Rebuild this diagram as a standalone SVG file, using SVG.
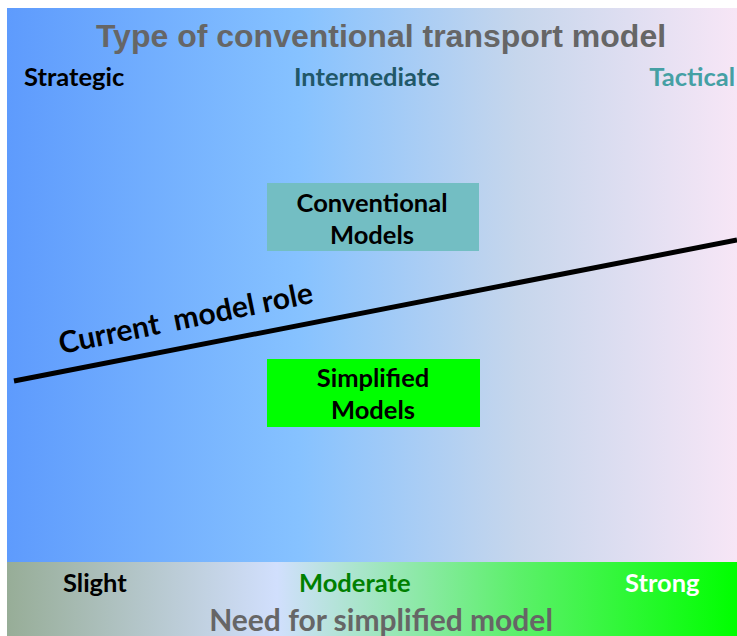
<svg xmlns="http://www.w3.org/2000/svg" width="737" height="636" viewBox="0 0 737 636">
<defs>
<linearGradient id="gTop" x1="0" y1="0" x2="1" y2="0">
<stop offset="0" stop-color="#5E9BFD"/>
<stop offset="0.4" stop-color="#86C2FF"/>
<stop offset="0.7" stop-color="#C6D6EC"/>
<stop offset="1" stop-color="#F7E6F6"/>
</linearGradient>
<linearGradient id="gBot" x1="0" y1="0" x2="1" y2="0">
<stop offset="0" stop-color="#97AD97"/>
<stop offset="0.37" stop-color="#D1DFFD"/>
<stop offset="0.7" stop-color="#5CF06A"/>
<stop offset="1" stop-color="#00FF00"/>
</linearGradient>
<style>
.lbl{font-family:Lato,"Open Sans",sans-serif;font-weight:bold;font-size:25.5px}
.mid{text-anchor:middle}
.title{font-family:"Liberation Sans",Arial,sans-serif;font-weight:bold;font-size:32px;fill:#666666;text-anchor:middle}
</style>
</defs>
<rect x="0" y="0" width="737" height="636" fill="#FFFFFF"/>
<g id="panel">
<rect x="7" y="8" width="730" height="554" fill="url(#gTop)"/>
<text class="title" x="381" y="47">Type of conventional transport model</text>
<text class="lbl" x="24" y="86" fill="#000000">Strategic</text>
<text class="lbl" x="294" y="86" fill="#215868">Intermediate</text>
<text class="lbl" x="735" y="86" fill="#45A0A4" style="text-anchor:end">Tactical</text>
</g>
<g id="bottom-band">
<rect x="7" y="562" width="730" height="74" fill="url(#gBot)"/>
<text class="lbl" x="63" y="592" fill="#000000">Slight</text>
<text class="lbl" x="299" y="592" fill="#008000">Moderate</text>
<text class="lbl" x="625" y="592" fill="#FFFFFF">Strong</text>
<text class="lbl mid" x="381" y="631" fill="#666666" style="font-size:30px">Need for simplified model</text>
</g>
<g id="conventional">
<rect x="267" y="183" width="212" height="68" fill="#73BEC3"/>
<text class="lbl mid" x="372" y="212" fill="#000000">Conventional</text>
<text class="lbl mid" x="372" y="244" fill="#000000">Models</text>
</g>
<g id="simplified">
<rect x="267" y="359" width="213" height="68" fill="#00FF00"/>
<text class="lbl mid" x="373" y="387" fill="#000000">Simplified</text>
<text class="lbl mid" x="373" y="419" fill="#000000">Models</text>
</g>
<g id="connectors">
<line x1="14" y1="381" x2="737" y2="240" stroke="#000000" stroke-width="5"/>
<text class="lbl" x="0" y="0" fill="#000000" style="font-size:30px;white-space:pre" transform="translate(61,354) rotate(-11.5)" xml:space="preserve">Current  model role</text>
</g>
</svg>
